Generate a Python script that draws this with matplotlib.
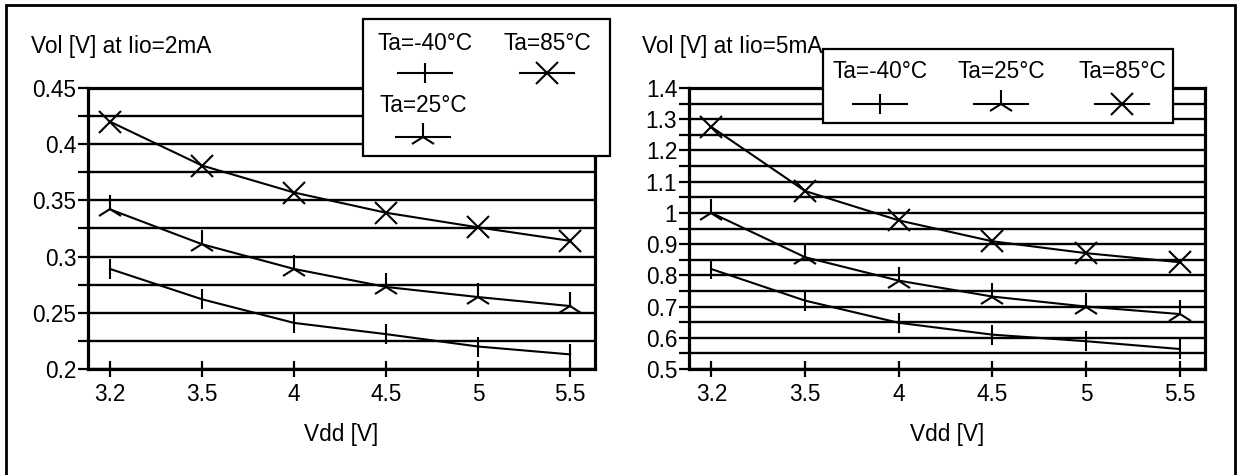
import matplotlib
matplotlib.use("Agg")
import matplotlib.pyplot as plt
from matplotlib.lines import Line2D
from matplotlib.patches import Rectangle
from matplotlib.ticker import MultipleLocator, FuncFormatter

plt.rcParams['font.family'] = ['Liberation Sans', 'DejaVu Sans']

# ---------------- data ----------------
vdd_labels = ['3.2', '3.5', '4', '4.5', '5', '5.5']
series_labels = ['Ta=-40°C', 'Ta=25°C', 'Ta=85°C']

vol_2mA_m40 = [0.289, 0.262, 0.241, 0.231, 0.220, 0.213]
vol_2mA_25 = [0.342, 0.311, 0.289, 0.273, 0.264, 0.256]
vol_2mA_85 = [0.420, 0.381, 0.357, 0.339, 0.326, 0.314]

vol_5mA_m40 = [0.820, 0.719, 0.648, 0.610, 0.589, 0.564]
vol_5mA_25 = [1.000, 0.858, 0.783, 0.732, 0.700, 0.676]
vol_5mA_85 = [1.275, 1.070, 0.976, 0.909, 0.871, 0.842]

# ---------------- style ----------------
W, H = 1237, 475
FS = 16.3
markers = ['|', '2', 'x']
msizes = [14.5, 20, 15.5]

fig = plt.figure(figsize=(W / 100, H / 100), dpi=100)


def fx(x):
    return x / W


def fy(y):
    return 1 - y / H


def make_panel(rect, series, ylim, major, minor, ylabel, ylabel_x):
    ax = fig.add_axes(rect)
    x = list(range(len(vdd_labels)))
    for vals, m, ms in zip(series, markers, msizes):
        ax.plot(x, vals, color='black', lw=1.5, marker=m, ms=ms, mew=1.5,
                clip_on=False, zorder=3)
    ax.set_xlim(-0.24, len(vdd_labels) - 1 + 0.27)
    ax.set_ylim(*ylim)
    ax.set_xticks(x)
    ax.set_xticklabels(vdd_labels, fontsize=FS)
    ax.yaxis.set_major_locator(MultipleLocator(major))
    ax.yaxis.set_minor_locator(MultipleLocator(minor))
    ax.yaxis.set_major_formatter(FuncFormatter(lambda v, p: '%g' % round(v, 3)))
    ax.tick_params(axis='y', which='both', direction='out', length=7.5, width=1.6,
                   labelsize=FS, pad=1)
    ax.tick_params(axis='x', direction='inout', length=12, width=1.6,
                   labelsize=FS, pad=4)
    ax.grid(True, axis='y', which='both', color='black', lw=1.7)
    ax.set_axisbelow(True)
    for s in ax.spines.values():
        s.set_linewidth(2.3)
    ax.set_xlabel('Vdd [V]', fontsize=FS, labelpad=12)
    fig.text(fx(ylabel_x), fy(46), ylabel, fontsize=FS, ha='left', va='center')
    return ax


ax1 = make_panel([fx(88), fy(369), fx(595 - 88), (369 - 88) / H],
                 [vol_2mA_m40, vol_2mA_25, vol_2mA_85],
                 (0.2, 0.45), 0.05, 0.025, 'Vol [V] at Iio=2mA', 31)
ax2 = make_panel([fx(689), fy(369), fx(1205 - 689), (369 - 88) / H],
                 [vol_5mA_m40, vol_5mA_25, vol_5mA_85],
                 (0.5, 1.4), 0.1, 0.05, 'Vol [V] at Iio=5mA', 642)


def legend_box(x0, y0, x1, y1, entries):
    fig.add_artist(Rectangle((fx(x0), fy(y1)), fx(x1 - x0), (y1 - y0) / H,
                             transform=fig.transFigure, facecolor='white',
                             edgecolor='black', lw=1.6, zorder=5))
    for (cx, ty, my, idx) in entries:
        fig.text(fx(cx), fy(ty), series_labels[idx], fontsize=FS, ha='center',
                 va='center', zorder=7)
        fig.add_artist(Line2D([fx(cx - 27), fx(cx + 27)], [fy(my), fy(my)],
                              transform=fig.transFigure, color='black', lw=1.5,
                              zorder=6))
        fig.add_artist(Line2D([fx(cx)], [fy(my)], transform=fig.transFigure,
                              color='black', lw=0, marker=markers[idx],
                              ms=msizes[idx], mew=1.5, zorder=6))


legend_box(363, 19, 610, 156, [(425, 43, 73, 0), (423, 106, 137, 1),
                               (547, 43, 73, 2)])
legend_box(823, 49, 1173, 123, [(880, 72, 104, 0), (1001, 72, 104, 1),
                                (1122, 72, 104, 2)])

# outer border
fig.add_artist(Rectangle((fx(6), fy(482)), fx(1235 - 6), (482 - 5) / H,
                         transform=fig.transFigure, facecolor='none',
                         edgecolor='black', lw=2.0, zorder=8))

fig.savefig('out.png', dpi=100)
